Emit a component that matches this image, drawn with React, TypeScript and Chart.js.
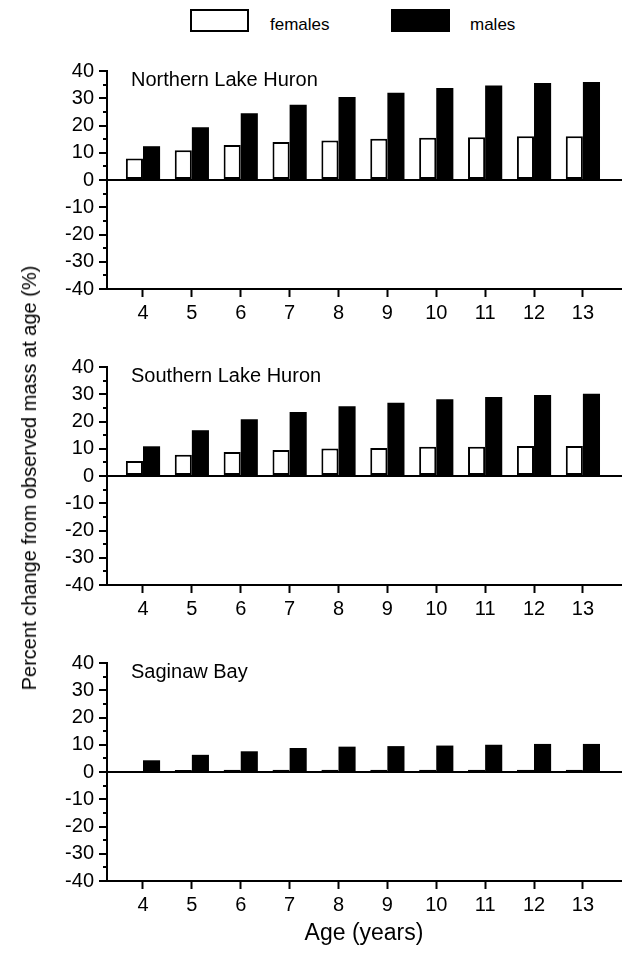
import React, { useEffect, useRef } from "react";
import { Chart, registerables } from "chart.js";

Chart.register(...registerables);

// ---------- data ----------
const ages = [4, 5, 6, 7, 8, 9, 10, 11, 12, 13];

const northernFemales = [7.9, 10.9, 12.8, 13.9, 14.5, 15.1, 15.5, 15.7, 16.1, 16.1];
const northernMales = [12.4, 19.4, 24.5, 27.6, 30.5, 32.0, 33.8, 34.7, 35.6, 36.0];

const southernFemales = [5.5, 7.8, 8.8, 9.5, 10.1, 10.3, 10.7, 10.7, 11.0, 11.0];
const southernMales = [10.9, 16.8, 20.8, 23.5, 25.6, 26.9, 28.2, 29.0, 29.7, 30.2];

const saginawFemales = [0.4, 0.7, 0.8, 0.8, 0.8, 0.8, 0.8, 0.8, 0.8, 0.8];
const saginawMales = [4.3, 6.3, 7.6, 8.8, 9.3, 9.5, 9.7, 10.0, 10.3, 10.3];

const yTickValues = [-40, -30, -20, -10, 0, 10, 20, 30, 40];
const yMinorTickValues = [-35, -25, -15, -5, 5, 15, 25, 35];

const seriesNames = ["females", "males"];
const panelTitles = ["Northern Lake Huron", "Southern Lake Huron", "Saginaw Bay"];
const xAxisTitle = "Age (years)";
const yAxisTitle = "Percent change from observed mass at age (%)";

const FONT = "'Liberation Sans', Arial, Helvetica, sans-serif";

// ---------- plugin: minor ticks + panel label ----------
const panelTextPlugin = {
  id: "panelText",
  afterDraw(chart: any, _args: any, opts: any) {
    const { ctx, chartArea, scales } = chart;
    const y = scales.y;
    ctx.save();
    ctx.strokeStyle = "#000";
    ctx.lineWidth = 2;
    yMinorTickValues.forEach((v) => {
      const py = Math.round(y.getPixelForValue(v));
      ctx.beginPath();
      ctx.moveTo(chartArea.left - 4, py);
      ctx.lineTo(chartArea.left, py);
      ctx.stroke();
    });
    ctx.fillStyle = "#000";
    ctx.font = `20px ${FONT}`;
    ctx.textAlign = "left";
    ctx.textBaseline = "alphabetic";
    ctx.fillText(opts.text || "", chartArea.left + 24, chartArea.top + 15);
    ctx.restore();
  },
};

const CANVAS_H = 275;
const PAD_TOP = 14;
const X_AXIS_H = 40;

function Panel(props: { top: number; title: string; females: number[]; males: number[] }) {
  const ref = useRef<HTMLCanvasElement | null>(null);
  useEffect(() => {
    if (!ref.current) return;
    const chart = new Chart(ref.current, {
      type: "bar",
      data: {
        datasets: [
          {
            label: seriesNames[0],
            data: ages.map((a, i) => ({ x: a, y: props.females[i] })),
            backgroundColor: "#ffffff",
            borderColor: "#000000",
            borderWidth: 2,
            borderSkipped: false,
          },
          {
            label: seriesNames[1],
            data: ages.map((a, i) => ({ x: a, y: props.males[i] })),
            backgroundColor: "#000000",
            borderColor: "#000000",
            borderWidth: 0,
            borderSkipped: false,
          },
        ],
      } as any,
      options: {
        responsive: false,
        animation: false,
        layout: { padding: { top: PAD_TOP, left: 0, right: 0, bottom: 0 } },
        datasets: { bar: { barPercentage: 1, categoryPercentage: 0.7 } },
        plugins: {
          legend: { display: false },
          tooltip: { enabled: false },
          panelText: { text: props.title },
        } as any,
        scales: {
          x: {
            type: "linear",
            min: 3.264,
            max: 13.8,
            offset: false,
            afterBuildTicks: (axis: any) => {
              axis.ticks = ages.map((v) => ({ value: v }));
            },
            afterFit: (axis: any) => {
              axis.height = X_AXIS_H;
            },
            grid: {
              display: true,
              drawOnChartArea: false,
              drawTicks: true,
              tickLength: 8,
              tickColor: "#000",
              tickWidth: 2,
              offset: false,
            },
            border: { display: true, color: "#000", width: 2 },
            ticks: {
              color: "#000",
              font: { family: FONT, size: 20 },
              padding: 4,
              maxRotation: 0,
              autoSkip: false,
              callback: (v: any) => String(v),
            },
          },
          y: {
            type: "linear",
            min: -40,
            max: 40,
            afterBuildTicks: (axis: any) => {
              axis.ticks = yTickValues.map((v) => ({ value: v }));
            },
            afterFit: (axis: any) => {
              axis.width = 107;
            },
            grid: {
              drawOnChartArea: true,
              color: (c: any) => (c.tick && c.tick.value === 0 ? "#000" : "rgba(0,0,0,0)"),
              lineWidth: 2,
              tickLength: 8,
              tickColor: "#000",
              tickWidth: 2,
            },
            border: { display: true, color: "#000", width: 2 },
            ticks: {
              color: "#000",
              font: { family: FONT, size: 20 },
              padding: 5,
              callback: (v: any) => String(v),
            },
          },
        } as any,
      },
      plugins: [panelTextPlugin as any],
    });
    return () => chart.destroy();
  }, []);
  return (
    <canvas
      ref={ref}
      width={622}
      height={CANVAS_H}
      style={{ position: "absolute", left: 0, top: props.top, width: 622, height: CANVAS_H }}
    />
  );
}

export default function App() {
  return (
    <div
      style={{
        position: "absolute",
        left: 0,
        top: 0,
        width: 622,
        height: 956,
        overflow: "hidden",
        background: "#fff",
        fontFamily: FONT,
        color: "#000",
      }}
    >
      {/* legend */}
      <div
        style={{
          position: "absolute",
          left: 190,
          top: 9,
          width: 59,
          height: 23,
          boxSizing: "border-box",
          border: "2px solid #000",
          background: "#fff",
        }}
      />
      <div style={{ position: "absolute", left: 270, top: 16, fontSize: 17, lineHeight: 1 }}>{seriesNames[0]}</div>
      <div
        style={{
          position: "absolute",
          left: 391,
          top: 9,
          width: 59,
          height: 23,
          boxSizing: "border-box",
          border: "2px solid #000",
          background: "#000",
        }}
      />
      <div style={{ position: "absolute", left: 470, top: 16, fontSize: 17, lineHeight: 1 }}>{seriesNames[1]}</div>

      <Panel top={54} title={panelTitles[0]} females={northernFemales} males={northernMales} />
      <Panel top={350} title={panelTitles[1]} females={southernFemales} males={southernMales} />
      <Panel top={646} title={panelTitles[2]} females={saginawFemales} males={saginawMales} />

      {/* y axis title */}
      <div
        style={{
          position: "absolute",
          left: 29,
          top: 478,
          transform: "translate(-50%, -50%) rotate(-90deg)",
          whiteSpace: "nowrap",
          fontSize: 20,
          lineHeight: 1,
        }}
      >
        {yAxisTitle}
      </div>

      {/* x axis title */}
      <div
        style={{
          position: "absolute",
          left: 364,
          top: 932,
          transform: "translate(-50%, -50%)",
          whiteSpace: "nowrap",
          fontSize: 23,
          lineHeight: 1,
        }}
      >
        {xAxisTitle}
      </div>
    </div>
  );
}
